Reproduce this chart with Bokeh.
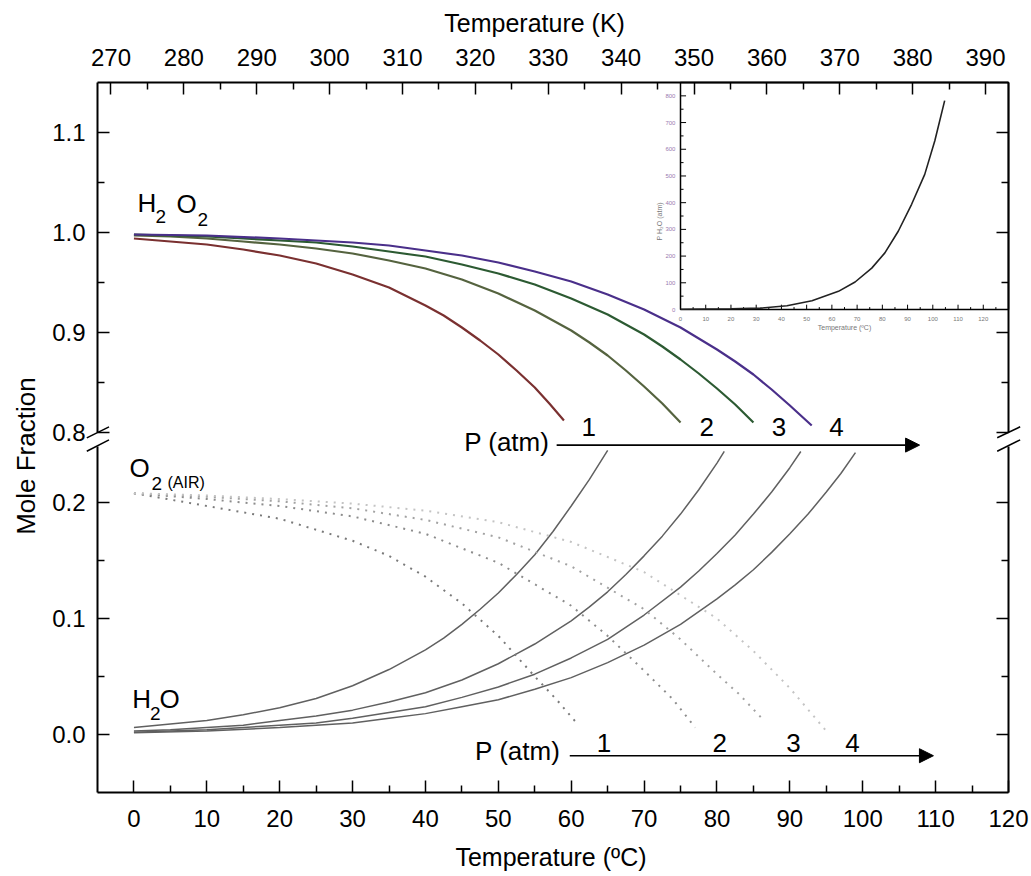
from bokeh.plotting import figure
from bokeh.models import (Range1d, LinearAxis, FixedTicker, Arrow, NormalHead,
                          Label, PrintfTickFormatter)
from bokeh.core.properties import value
from bokeh.embed import file_html
from bokeh.resources import INLINE

# ---------------- data ----------------
# H2/O2 mole fraction (upper panel), P = 1..4 atm
h2o2_t1 = [0, 5, 10, 15, 20, 25, 30, 35, 40, 42.5, 45, 47.5, 50, 52.5, 55, 57, 59]
h2o2_x1 = [0.994, 0.991, 0.988, 0.983, 0.977, 0.969, 0.958, 0.945, 0.927, 0.917, 0.905, 0.892,
           0.878, 0.862, 0.845, 0.829, 0.812]
h2o2_t2 = [0, 5, 10, 15, 20, 25, 30, 35, 40, 45, 50, 55, 60, 62.5, 65, 67.5, 70, 72.5, 75]
h2o2_x2 = [0.997, 0.996, 0.994, 0.991, 0.988, 0.984, 0.979, 0.972, 0.964, 0.953, 0.939, 0.922,
           0.902, 0.890, 0.877, 0.862, 0.846, 0.829, 0.810]
h2o2_t3 = [0, 5, 10, 15, 20, 25, 30, 35, 40, 45, 50, 55, 60, 65, 70, 72.5, 75, 77.5, 80, 82.5, 85]
h2o2_x3 = [0.998, 0.997, 0.996, 0.994, 0.992, 0.990, 0.986, 0.981, 0.976, 0.968, 0.959, 0.948,
           0.934, 0.918, 0.898, 0.886, 0.873, 0.859, 0.844, 0.828, 0.810]
h2o2_t4 = [0, 10, 20, 30, 35, 40, 45, 50, 55, 60, 65, 70, 75, 80, 82.5, 85, 87.5, 90, 93]
h2o2_x4 = [0.998, 0.997, 0.994, 0.990, 0.987, 0.982, 0.977, 0.970, 0.961, 0.951, 0.938, 0.923,
           0.905, 0.883, 0.871, 0.858, 0.843, 0.827, 0.807]

# H2O mole fraction (lower panel)
h2o_t1 = [0, 5, 10, 15, 20, 25, 30, 35, 40, 42.5, 45, 47.5, 50, 52.5, 55, 57.5, 60, 62.5, 65]
h2o_x1 = [0.006, 0.009, 0.012, 0.017, 0.023, 0.031, 0.042, 0.056, 0.073, 0.083, 0.095, 0.108,
          0.122, 0.138, 0.155, 0.175, 0.197, 0.220, 0.245]
h2o_t2 = [0, 5, 10, 15, 20, 25, 30, 35, 40, 45, 50, 55, 60, 62.5, 65, 67.5, 70, 72.5, 75, 77.5, 80, 81]
h2o_x2 = [0.003, 0.004, 0.006, 0.008, 0.012, 0.016, 0.021, 0.028, 0.036, 0.047, 0.061, 0.078,
          0.098, 0.110, 0.123, 0.138, 0.154, 0.171, 0.190, 0.211, 0.234, 0.244]
h2o_t3 = [0, 10, 20, 25, 30, 35, 40, 45, 50, 55, 60, 65, 70, 75, 77.5, 80, 82.5, 85, 87.5, 90, 91.5]
h2o_x3 = [0.002, 0.004, 0.008, 0.010, 0.014, 0.019, 0.024, 0.032, 0.041, 0.052, 0.066, 0.082,
          0.103, 0.127, 0.141, 0.156, 0.172, 0.190, 0.209, 0.230, 0.244]
h2o_t4 = [0, 10, 20, 25, 30, 35, 40, 45, 50, 55, 60, 65, 70, 75, 80, 82.5, 85, 87.5, 90, 92.5, 95, 97, 99]
h2o_x4 = [0.0015, 0.003, 0.006, 0.008, 0.010, 0.014, 0.018, 0.024, 0.030, 0.039, 0.049, 0.062,
          0.077, 0.095, 0.117, 0.129, 0.142, 0.157, 0.173, 0.190, 0.209, 0.225, 0.243]

# O2 (air) mole fraction, dotted (lower panel)
o2_t1 = [0, 10, 20, 30, 35, 40, 45, 50, 55, 58, 61]
o2_x1 = [0.208, 0.197, 0.186, 0.167, 0.154, 0.136, 0.113, 0.085, 0.050, 0.030, 0.008]
o2_t2 = [0, 10, 20, 30, 40, 50, 60, 65, 70, 74, 77]
o2_x2 = [0.208, 0.203, 0.197, 0.188, 0.173, 0.148, 0.111, 0.085, 0.055, 0.030, 0.006]
o2_t3 = [0, 10, 20, 30, 40, 50, 60, 70, 75, 80, 83, 86]
o2_x3 = [0.208, 0.205, 0.201, 0.195, 0.185, 0.170, 0.145, 0.108, 0.082, 0.052, 0.035, 0.015]
o2_t4 = [0, 10, 20, 30, 40, 50, 60, 70, 80, 85, 90, 95]
o2_x4 = [0.208, 0.206, 0.203, 0.199, 0.193, 0.183, 0.166, 0.140, 0.100, 0.072, 0.040, 0.003]

# inset: water vapour pressure curve
inset_t = [0, 10, 20, 31.6, 42.2, 52.1, 62.6, 69.2, 75.8, 81.0, 86.3, 91.6, 96.8, 100.8, 104.7]
inset_p = [1, 2, 3, 5, 14, 33, 68, 103, 155, 212, 293, 394, 506, 632, 782]
inset_x_ticks = list(range(0, 130, 10))
inset_x_minor = list(range(5, 130, 10))
inset_y_ticks = list(range(0, 900, 100))
inset_y_minor = list(range(50, 850, 100))
inset_x_lim = (0, 130)
inset_y_lim = (0, 850)

# axis ticks
x_ticks_c = list(range(0, 130, 10))
x_minor_c = list(range(5, 120, 10))
x_ticks_k = list(range(270, 400, 10))
x_minor_k = list(range(275, 395, 10))
y_ticks_top = [0.8, 0.9, 1.0, 1.1]
y_minor_top = [0.85, 0.95, 1.05]
y_ticks_bot = [0.0, 0.1, 0.2]
y_minor_bot = [0.05, 0.15]
pressures = ["1", "2", "3", "4"]

# ---------------- layout geometry (pixels) ----------------
W, H = 1031, 876
FX0, FX1, FY0, FY1 = 97, 1008, 82, 792          # main plot box
C_LO, C_HI = -5.0, 120.0                        # deg C across the box
BOT_LO, BOT_HI = -0.05, 0.248                   # lower panel
TOP_LO, TOP_HI = 0.80, 1.15                     # upper panel
BOT_PX_PER = 1160.0
TOP_PX_PER = 1000.0
IX0, IX1, IY0, IY1 = 680, 1008, 309, 82         # inset box

sx = (FX1 - FX0) / (C_HI - C_LO)
x_rng = (C_LO - FX0 / sx, C_HI + (W - FX1) / sx)
bot_rng = (BOT_LO - (H - FY1) / BOT_PX_PER, BOT_LO + FY1 / BOT_PX_PER)
top_rng = (TOP_HI - (H - FY0) / TOP_PX_PER, TOP_HI + FY0 / TOP_PX_PER)
isx = (IX1 - IX0) / (inset_x_lim[1] - inset_x_lim[0])
isy = (IY0 - IY1) / (inset_y_lim[1] - inset_y_lim[0])
ix_rng = (inset_x_lim[0] - IX0 / isx, inset_x_lim[1] + (W - IX1) / isx)
iy_rng = (inset_y_lim[0] - (H - IY0) / isy, inset_y_lim[1] + IY1 / isy)

SANS = "Liberation Sans"
top_cols = ["#7a3030", "#55633f", "#2c5a32", "#4a2f8a"]
dot_cols = ["#7a7a7a", "#8c8c8c", "#a2a2a2", "#c4c4c4"]

p = figure(width=W, height=H, x_range=Range1d(*x_rng), y_range=Range1d(*bot_rng),
           x_axis_type=None, y_axis_type=None, output_backend="svg", toolbar_location=None,
           min_border=0)
p.outline_line_color = None
p.background_fill_color = "white"
p.border_fill_color = "white"
p.extra_y_ranges = {"top": Range1d(*top_rng), "iy": Range1d(*iy_rng)}
p.extra_x_ranges = {"K": Range1d(x_rng[0] + 273.15, x_rng[1] + 273.15), "ix": Range1d(*ix_rng)}


def axis(side, ticks, minor, loc, bounds, labels=True, standoff=12, **kw):
    ax = LinearAxis(ticker=FixedTicker(ticks=ticks, minor_ticks=minor), fixed_location=loc,
                    bounds=bounds, **kw)
    ax.axis_line_width = 2
    ax.axis_line_color = "black"
    ax.major_tick_line_width = 1.5
    ax.minor_tick_line_width = 1.5
    ax.major_tick_in = 12
    ax.major_tick_out = 0
    ax.minor_tick_in = 7
    ax.minor_tick_out = 0
    ax.major_label_text_font = SANS
    ax.major_label_text_font_size = "24px" if labels else "0px"
    ax.major_label_text_color = "black" if labels else None
    ax.major_label_standoff = standoff
    p.add_layout(ax, side)
    return ax


fmt = PrintfTickFormatter(format="%.1f")
axis("below", x_ticks_c, x_minor_c, BOT_LO, (C_LO, C_HI), standoff=17)
axis("above", x_ticks_k, x_minor_k, TOP_HI, (C_LO + 273.15, C_HI + 273.15), standoff=17,
     x_range_name="K", y_range_name="top")
axis("left", y_ticks_bot, y_minor_bot, C_LO, (BOT_LO, BOT_HI), formatter=fmt)
axis("left", y_ticks_top, y_minor_top, C_LO, (TOP_LO, TOP_HI), formatter=fmt, y_range_name="top")
axis("right", y_ticks_bot, y_minor_bot, C_HI, (BOT_LO, BOT_HI), labels=False)
axis("right", y_ticks_top, y_minor_top, C_HI, (TOP_LO, TOP_HI), labels=False, y_range_name="top")

# ---------------- curves ----------------
for t, x, c in zip([h2o2_t1, h2o2_t2, h2o2_t3, h2o2_t4], [h2o2_x1, h2o2_x2, h2o2_x3, h2o2_x4], top_cols):
    p.line(t, x, y_range_name="top", line_color=c, line_width=2.2)

for t, x in zip([h2o_t1, h2o_t2, h2o_t3, h2o_t4], [h2o_x1, h2o_x2, h2o_x3, h2o_x4]):
    p.line(t, x, line_color="#606060", line_width=1.5)

for t, x, c in zip([o2_t1, o2_t2, o2_t3, o2_t4], [o2_x1, o2_x2, o2_x3, o2_x4], dot_cols):
    p.line(t, x, line_color=c, line_width=2, line_dash="2 6")

# ---------------- inset ----------------
p.quad(left=inset_x_lim[0], right=inset_x_lim[1], bottom=inset_y_lim[0], top=inset_y_lim[1],
       x_range_name="ix", y_range_name="iy", fill_color="white", line_color="black", line_width=1.5)
p.segment(x0=inset_x_ticks, y0=[0] * len(inset_x_ticks), x1=inset_x_ticks, y1=[18] * len(inset_x_ticks),
          x_range_name="ix", y_range_name="iy", line_color="black", line_width=1)
p.segment(x0=inset_x_minor, y0=[0] * len(inset_x_minor), x1=inset_x_minor, y1=[9] * len(inset_x_minor),
          x_range_name="ix", y_range_name="iy", line_color="black", line_width=1)
p.segment(x0=[0] * len(inset_y_ticks), y0=inset_y_ticks, x1=[2.2] * len(inset_y_ticks), y1=inset_y_ticks,
          x_range_name="ix", y_range_name="iy", line_color="black", line_width=1)
p.segment(x0=[0] * len(inset_y_minor), y0=inset_y_minor, x1=[1.2] * len(inset_y_minor), y1=inset_y_minor,
          x_range_name="ix", y_range_name="iy", line_color="black", line_width=1)
p.text(x=inset_x_ticks, y=[-34] * len(inset_x_ticks), text=[str(v) for v in inset_x_ticks],
       x_range_name="ix", y_range_name="iy", text_font=value(SANS), text_font_size="6px",
       text_color="#777777", text_align="center", text_baseline="middle")
p.text(x=[-2] * len(inset_y_ticks), y=inset_y_ticks, text=[str(v) for v in inset_y_ticks],
       x_range_name="ix", y_range_name="iy", text_font=value(SANS), text_font_size="6px",
       text_color="#9a7ab0", text_align="right", text_baseline="middle")
p.text(x=[65], y=[-67], text=["Temperature (ºC)"], x_range_name="ix", y_range_name="iy",
       text_font=value(SANS), text_font_size="7px", text_color="#777777",
       text_align="center", text_baseline="middle")
p.text(x=[-8.5], y=[330], text=["P H₂O (atm)"], angle=1.5708, x_range_name="ix", y_range_name="iy",
       text_font=value(SANS), text_font_size="7px", text_color="#777777",
       text_align="center", text_baseline="middle")
p.line(inset_t, inset_p, x_range_name="ix", y_range_name="iy", line_color="#222222", line_width=1.6)


# ---------------- annotations (y = vertical centre of the text) ----------------
def lab(x, y, text, size, rng="default", align="left", angle=0.0):
    kw = dict(x=x, y=y, text=text, text_font=SANS, text_font_size=size, text_color="black",
              text_align=align, text_baseline="middle", angle=angle)
    if rng != "default":
        kw["y_range_name"] = rng
    p.add_layout(Label(**kw))


# axis titles
lab(55.45, 1.210, "Temperature  (K)", "25px", "top", align="center")
lab(57.7, -0.1052, "Temperature  (ºC)", "25px", align="center")
lab(-14.87, 0.2431, "Mole  Fraction", "26px", align="center", angle=1.5708)

# species labels
lab(0.49, 1.0295, "H", "26px", "top")
lab(2.96, 1.0165, "2", "19px", "top")
lab(5.85, 1.0290, "O", "26px", "top")
lab(8.73, 1.0135, "2", "19px", "top")
lab(-0.6, 0.2297, "O", "26px")
lab(2.4, 0.2168, "2", "19px")
lab(4.6, 0.2172, "(AIR)", "16px")
lab(-0.23, 0.0310, "H", "26px")
lab(2.2, 0.0185, "2", "19px")
lab(3.5, 0.0302, "O", "26px")

# pressure arrows
lab(57.0, 0.7905, "P (atm)", "26px", "top", align="right")
for xp, s in zip([61.4, 77.6, 87.5, 95.4], pressures):
    lab(xp, 0.8060, s, "26px", "top")
p.add_layout(Arrow(end=NormalHead(size=14, fill_color="black", line_color="black"),
                   x_start=58.0, y_start=0.7874, x_end=107.8, y_end=0.7874,
                   y_range_name="top", line_width=1.6, line_color="black"))
lab(58.5, -0.0142, "P (atm)", "26px", align="right")
for xp, s in zip([63.5, 79.4, 89.5, 97.6], pressures):
    lab(xp, -0.0073, s, "26px")
p.add_layout(Arrow(end=NormalHead(size=14, fill_color="black", line_color="black"),
                   x_start=59.8, y_start=-0.0183, x_end=109.7, y_end=-0.0183,
                   line_width=1.6, line_color="black"))

# axis break marks
for xs, xe in [(-6.47, -3.42), (118.45, 121.6)]:
    p.add_layout(Arrow(end=None, x_start=xs, y_start=0.7947, x_end=xe, y_end=0.8057,
                       y_range_name="top", line_width=1.5, line_color="black"))
    p.add_layout(Arrow(end=None, x_start=xs, y_start=0.2442, x_end=xe, y_end=0.2540,
                       line_width=1.5, line_color="black"))

open("out.html", "w").write(file_html(p, INLINE))
